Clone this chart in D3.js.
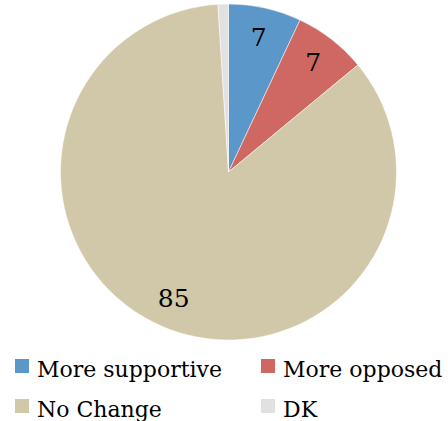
<!DOCTYPE html>
<html><head><meta charset="utf-8">
<script src="https://cdn.jsdelivr.net/npm/d3@7"></script>
<style>body{margin:0;background:#fff}svg{display:block}</style>
</head><body>
<svg id="c" width="448" height="421"></svg>
<script>
const categories = ["More supportive", "More opposed", "No Change", "DK"];
const values = [7, 7, 85, 1];
const labels = ["7", "7", "85", ""];
const colors = ["#5B97C9", "#CF6862", "#D0C8A8", "#E1E1E1"];

const svg = d3.select("#c");
const cx = 228.5, cy = 172, R = 168;
const font = "'DejaVu Serif', serif";

const pie = d3.pie().sort(null).value(d => d)(values);
const arc = d3.arc().innerRadius(0).outerRadius(R);
const labelArc = d3.arc().innerRadius(138).outerRadius(138);

const g = svg.append("g").attr("transform", `translate(${cx},${cy})`);
g.selectAll("path").data(pie).join("path")
  .attr("d", arc)
  .attr("fill", (d, i) => colors[i])
  .attr("stroke", "#fff").attr("stroke-width", 0.5);

g.selectAll("text").data(pie).join("text")
  .attr("transform", d => `translate(${labelArc.centroid(d)})`)
  .attr("text-anchor", "middle").attr("dominant-baseline", "central")
  .attr("font-family", font).attr("font-size", 25).attr("fill", "#000")
  .text((d, i) => labels[i]);

const lx = d3.scaleOrdinal().domain([0, 1]).range([15, 261]);
const ly = d3.scaleOrdinal().domain([0, 1]).range([359, 399]);
const leg = svg.append("g").selectAll("g").data(categories).join("g")
  .attr("transform", (d, i) => `translate(${lx(i % 2)},${ly(Math.floor(i / 2))})`);
leg.append("rect").attr("width", 14).attr("height", 14).attr("fill", (d, i) => colors[i]);
leg.append("text").attr("x", 22).attr("y", 18)
  .attr("font-family", font).attr("font-size", 22).attr("fill", "#000")
  .text(d => d);
</script>
</body></html>
